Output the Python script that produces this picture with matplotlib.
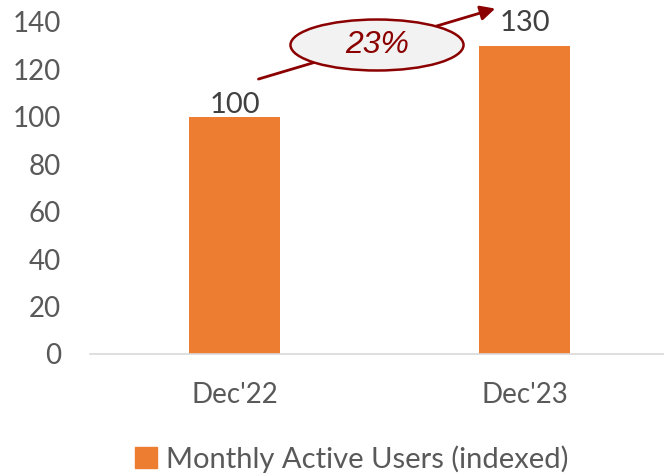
import matplotlib
matplotlib.use("Agg")
import matplotlib.pyplot as plt
from matplotlib.patches import Ellipse, Patch

categories = ["Dec'22", "Dec'23"]
mau_indexed = [100, 130]
growth_label = "23%"
yticks = [0, 20, 40, 60, 80, 100, 120, 140]

orange = "#ED7D31"
dark_red = "#8B0000"
grey = "#595959"

fig = plt.figure(figsize=(6.64, 4.76), dpi=100)
ax = fig.add_axes([90 / 664, 122 / 476, 574 / 664, 332 / 476])

x = range(len(categories))
ax.bar(x, mau_indexed, width=0.314, color=orange, zorder=2)
# the second label sits higher to clear the arrow head
label_gap = [-1, 7]
for xi, v, gap in zip(x, mau_indexed, label_gap):
    ax.annotate(str(v), (xi, v), xytext=(0, gap), textcoords="offset points",
                ha="center", va="bottom", fontsize=21, family="Lato",
                color="#404040", annotation_clip=False)

ax.set_xlim(-0.5, 1.48)
ax.set_ylim(0, 140)
ax.set_yticks(yticks)
ax.set_xticks(list(x))
ax.set_xticklabels(categories)
for lbl in ax.get_xticklabels() + ax.get_yticklabels():
    lbl.set_family("Lato")
    lbl.set_fontsize(20)
    lbl.set_color(grey)
ax.tick_params(axis="y", length=0, pad=21)
ax.tick_params(axis="x", length=0, pad=20)
for s in ["top", "right", "left"]:
    ax.spines[s].set_visible(False)
ax.spines["bottom"].set_color("#D9D9D9")
ax.spines["bottom"].set_linewidth(1.2)

# growth arrow between the two bars
ax.annotate("", xy=(0.907, 146), xytext=(0.072, 115.6),
            arrowprops=dict(arrowstyle="-|>", color=dark_red, lw=2,
                            mutation_scale=22),
            annotation_clip=False, zorder=3)
ax.add_patch(Ellipse((0.49, 130.3), 0.597, 21.5, facecolor="#F2F2F2",
                     edgecolor=dark_red, lw=1.8, zorder=4, clip_on=False))
ax.text(0.49, 130.3, growth_label, ha="center", va="center", fontsize=23,
        style="italic", family="Liberation Sans", color=dark_red, zorder=5)

fig.legend(handles=[Patch(color=orange, label="Monthly Active Users (indexed)")],
           loc="center", bbox_to_anchor=(352 / 664, 1 - 459 / 476), frameon=False,
           prop={"family": "Lato", "size": 21}, labelcolor=grey,
           handlelength=0.75, handleheight=0.75, handletextpad=0.3)

fig.savefig("out.png", dpi=100)
